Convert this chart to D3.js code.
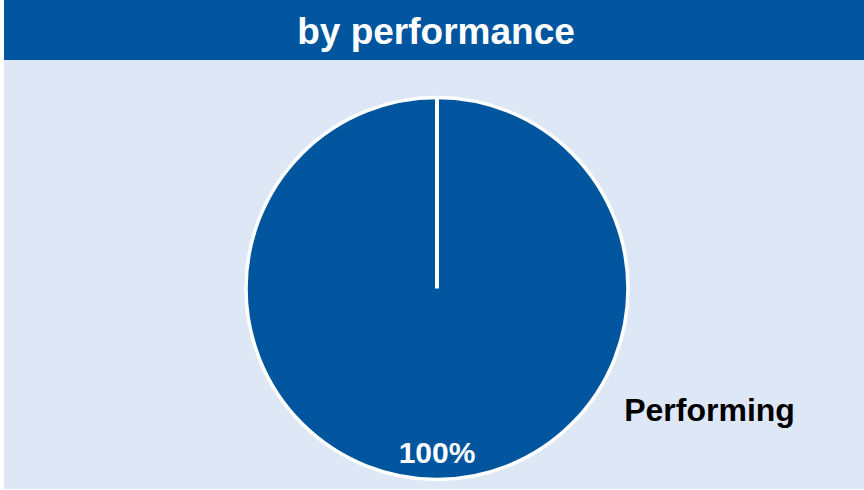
<!DOCTYPE html>
<html>
<head>
<meta charset="utf-8">
<script src="https://cdn.jsdelivr.net/npm/d3@7"></script>
<style>
  html, body { margin: 0; padding: 0; background: #ffffff; }
  svg { display: block; }
</style>
</head>
<body>
<svg id="chart" width="864" height="490"></svg>
<script>
// ---- data ----
const title = "by performance";
const categories = ["Performing"];
const values = [100];
const percentLabels = ["100%"];

// ---- layout ----
const W = 864, H = 490;
const svg = d3.select("#chart");
const fontFamily = "'Liberation Sans', Arial, Helvetica, sans-serif";

// background panel
svg.append("rect").attr("x", 4).attr("y", 60).attr("width", W - 4).attr("height", 429)
  .attr("fill", "#dee7f5");
// title bar
svg.append("rect").attr("x", 4).attr("y", 0).attr("width", W - 4).attr("height", 60)
  .attr("fill", "#00559f");
svg.append("text").attr("x", 436).attr("y", 44).attr("text-anchor", "middle")
  .attr("fill", "#ffffff").attr("font-family", fontFamily).attr("font-weight", "bold")
  .attr("font-size", 37).text(title);

const cx = 437, cy = 288.5, r = 191;
const g = svg.append("g").attr("transform", `translate(${cx},${cy})`);

const pie = d3.pie().sort(null).value(d => d)(values);
const arc = d3.arc().innerRadius(0).outerRadius(r);

g.selectAll("path.slice").data(pie).enter().append("path")
  .attr("class", "slice")
  .attr("d", arc)
  .attr("fill", "#00559f")
  .attr("stroke", "#ffffff")
  .attr("stroke-width", 3.5);

// radial slice borders (edges of each slice)
g.selectAll("line.edge").data(pie).enter().append("line")
  .attr("class", "edge")
  .attr("x1", 0).attr("y1", 0)
  .attr("x2", d => r * Math.sin(d.startAngle))
  .attr("y2", d => -r * Math.cos(d.startAngle))
  .attr("stroke", "#ffffff").attr("stroke-width", 4);

// percent labels inside slices at bisector
const labelArc = d3.arc().innerRadius(r * 0.855).outerRadius(r * 0.855);
g.selectAll("text.pct").data(pie).enter().append("text")
  .attr("class", "pct")
  .attr("transform", d => `translate(${labelArc.centroid(d)})`)
  .attr("dy", "0.36em")
  .attr("text-anchor", "middle")
  .attr("fill", "#ffffff").attr("font-family", fontFamily).attr("font-weight", "bold")
  .attr("font-size", 30)
  .text((d, i) => percentLabels[i]);

// category labels outside, lower right
g.selectAll("text.cat").data(pie).enter().append("text")
  .attr("class", "cat")
  .attr("x", r * 0.98).attr("y", 132)
  .attr("text-anchor", "start")
  .attr("fill", "#000000").attr("font-family", fontFamily).attr("font-weight", "bold")
  .attr("font-size", 32)
  .text((d, i) => categories[i]);
</script>
</body>
</html>
